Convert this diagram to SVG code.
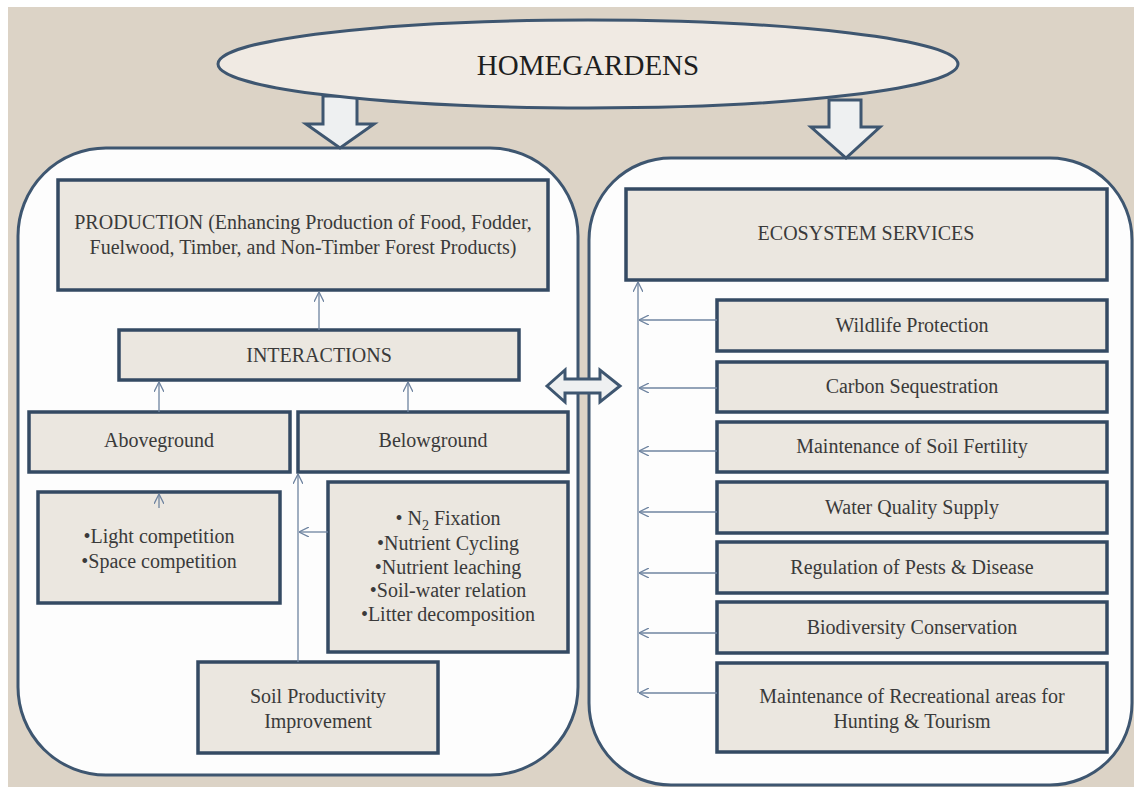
<svg xmlns="http://www.w3.org/2000/svg" width="1134" height="787" viewBox="0 0 1134 787">
<defs>
<marker id="ah" viewBox="0 0 10 10" refX="10" refY="5" markerWidth="10" markerHeight="10" markerUnits="userSpaceOnUse" orient="auto">
<path d="M0,0 L10,5 L0,10" fill="none" stroke="#6f84a0" stroke-width="1.3"/>
</marker>
</defs>
<style>
.panel{fill:#fdfdfd;stroke:#3e5670;stroke-width:3}
.box{fill:#ebe7e0;stroke:#344a63;stroke-width:3.5}
.blk{fill:#eef0f1;stroke:#3e5670;stroke-width:3;stroke-linejoin:miter}
.t{font-family:"Liberation Serif","Times New Roman",serif;font-size:20px;fill:#3a3a3a;text-anchor:middle}
.c{stroke:#6f84a0;stroke-width:1.3;fill:none;marker-end:url(#ah)}
</style>
<rect x="0" y="0" width="1134" height="787" fill="#ffffff"/>
<rect x="8" y="7" width="1126" height="780" fill="#dcd3c6"/>

<g id="left-panel"><rect class="panel" x="18" y="148" width="560" height="627" rx="88" ry="88"/></g>
<g id="right-panel"><rect class="panel" x="589" y="158" width="543" height="627" rx="82" ry="82"/></g>

<g id="arrow-left"><polygon class="blk" points="323,96 357,96 357,124 374,124 340,148 306,124 323,124"/></g>
<g id="arrow-right"><polygon class="blk" points="829,100 861,100 861,127 880,127 846,158 811,127 829,127"/></g>

<g id="homegardens">
<ellipse cx="588" cy="64" rx="370" ry="44" fill="#f0eae3" stroke="#3e5670" stroke-width="3"/>
<text x="588" y="75" style="font-family:'Liberation Serif','Times New Roman',serif;font-size:29px;fill:#1e1e1e;text-anchor:middle">HOMEGARDENS</text>
</g>

<g id="double-arrow"><polygon class="blk" points="547,386 565,370 565,379 600,379 600,370 620,386 600,402 600,393 565,393 565,402"/></g>

<g id="production">
<rect class="box" x="58" y="180" width="490" height="110"/>
<text class="t" x="303" y="229">PRODUCTION (Enhancing Production of Food, Fodder,</text>
<text class="t" x="303" y="254">Fuelwood, Timber, and Non-Timber  Forest Products)</text>
</g>
<g id="interactions">
<rect class="box" x="119" y="330" width="400" height="50"/>
<text class="t" x="319" y="362">INTERACTIONS</text>
</g>
<g id="aboveground">
<rect class="box" x="29" y="412" width="261" height="60"/>
<text class="t" x="159" y="447">Aboveground</text>
</g>
<g id="belowground">
<rect class="box" x="298" y="412" width="270" height="60"/>
<text class="t" x="433" y="447">Belowground</text>
</g>
<g id="competition">
<rect class="box" x="38" y="492" width="242" height="111"/>
<text class="t" x="159" y="543">•Light competition</text>
<text class="t" x="159" y="568">•Space competition</text>
</g>
<g id="belowground-processes">
<rect class="box" x="328" y="482" width="240" height="170"/>
<text class="t" x="448" y="525">• N<tspan font-size="14" dy="5">2</tspan><tspan dy="-5"> Fixation</tspan></text>
<text class="t" x="448" y="550">•Nutrient Cycling</text>
<text class="t" x="448" y="574">•Nutrient leaching</text>
<text class="t" x="448" y="597">•Soil-water relation</text>
<text class="t" x="448" y="621">•Litter decomposition</text>
</g>
<g id="soil-productivity">
<rect class="box" x="198" y="662" width="240" height="91"/>
<text class="t" x="318" y="703">Soil Productivity</text>
<text class="t" x="318" y="728">Improvement</text>
</g>

<g id="ecosystem-services">
<rect class="box" x="626" y="189" width="481" height="91"/>
<text class="t" x="866" y="240">ECOSYSTEM SERVICES</text>
</g>
<g id="wildlife">
<rect class="box" x="717" y="300" width="390" height="51"/>
<text class="t" x="912" y="332">Wildlife Protection</text>
</g>
<g id="carbon">
<rect class="box" x="717" y="362" width="390" height="50"/>
<text class="t" x="912" y="393">Carbon Sequestration</text>
</g>
<g id="soil-fertility">
<rect class="box" x="717" y="422" width="390" height="50"/>
<text class="t" x="912" y="453">Maintenance of Soil Fertility</text>
</g>
<g id="water">
<rect class="box" x="717" y="482" width="390" height="51"/>
<text class="t" x="912" y="514">Water Quality Supply</text>
</g>
<g id="pests">
<rect class="box" x="717" y="542" width="390" height="51"/>
<text class="t" x="912" y="574">Regulation of Pests &amp; Disease</text>
</g>
<g id="biodiversity">
<rect class="box" x="717" y="602" width="390" height="51"/>
<text class="t" x="912" y="634">Biodiversity Conservation</text>
</g>
<g id="recreation">
<rect class="box" x="717" y="663" width="390" height="89"/>
<text class="t" x="912" y="703">Maintenance of Recreational  areas for</text>
<text class="t" x="912" y="728">Hunting &amp; Tourism</text>
</g>

<g id="connectors">
<line class="c" x1="319" y1="330" x2="319" y2="292"/>
<line class="c" x1="159" y1="412" x2="159" y2="382"/>
<line class="c" x1="408" y1="412" x2="408" y2="382"/>
<line class="c" x1="159" y1="508" x2="159" y2="494"/>
<line class="c" x1="298" y1="662" x2="298" y2="474"/>
<line class="c" x1="328" y1="532" x2="299" y2="532"/>
<line class="c" x1="638" y1="693" x2="638" y2="282"/>
<line class="c" x1="717" y1="320" x2="639" y2="320"/>
<line class="c" x1="717" y1="388" x2="639" y2="388"/>
<line class="c" x1="717" y1="451" x2="639" y2="451"/>
<line class="c" x1="717" y1="512" x2="639" y2="512"/>
<line class="c" x1="717" y1="573" x2="639" y2="573"/>
<line class="c" x1="717" y1="633" x2="639" y2="633"/>
<line class="c" x1="717" y1="693" x2="639" y2="693"/>
</g>
</svg>
